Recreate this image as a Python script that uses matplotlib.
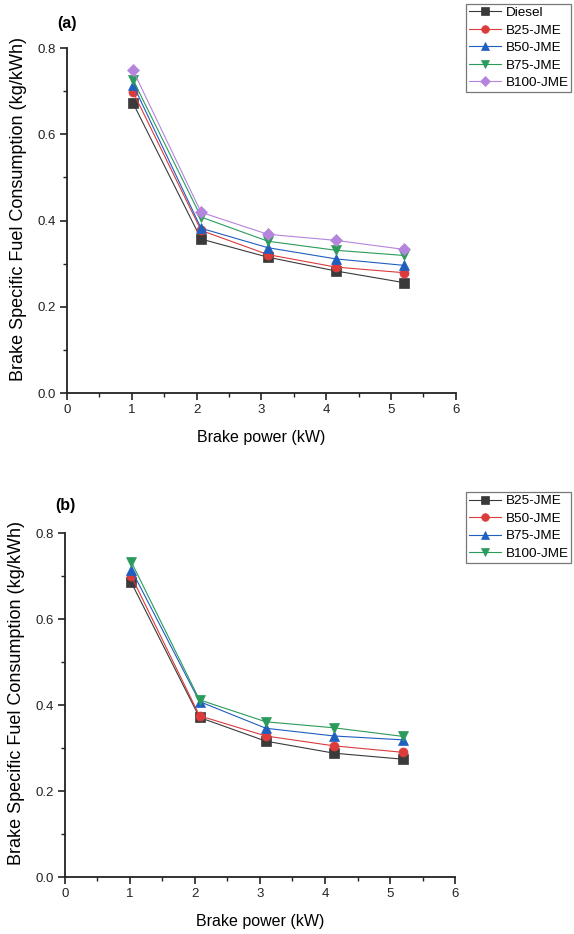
import matplotlib
matplotlib.use("Agg")
import matplotlib.pyplot as plt
from matplotlib.ticker import MultipleLocator

plt.rcParams['font.family'] = ['Liberation Sans', 'DejaVu Sans']

# Panel (a)
power_a = [1.02, 2.07, 3.10, 4.15, 5.20]
diesel_a = [0.672, 0.357, 0.315, 0.283, 0.256]
b25_a = [0.698, 0.377, 0.321, 0.292, 0.279]
b50_a = [0.715, 0.382, 0.337, 0.311, 0.296]
b75_a = [0.726, 0.408, 0.352, 0.331, 0.319]
b100_a = [0.748, 0.419, 0.368, 0.354, 0.333]
labels_a = ["Diesel", "B25-JME", "B50-JME", "B75-JME", "B100-JME"]

# Panel (b)
power_b = [1.02, 2.07, 3.09, 4.14, 5.20]
b25_b = [0.685, 0.371, 0.316, 0.288, 0.274]
b50_b = [0.700, 0.375, 0.328, 0.305, 0.290]
b75_b = [0.715, 0.408, 0.346, 0.328, 0.319]
b100_b = [0.733, 0.412, 0.361, 0.347, 0.327]
labels_b = ["B25-JME", "B50-JME", "B75-JME", "B100-JME"]

x_ticks = [0, 1, 2, 3, 4, 5, 6]
y_ticks = [0.0, 0.2, 0.4, 0.6, 0.8]

styles = [
    dict(color="#3a3a3a", marker="s"),
    dict(color="#dc3b3b", marker="o"),
    dict(color="#1f5fc0", marker="^"),
    dict(color="#2a9b5b", marker="v"),
    dict(color="#b584dc", marker="D"),
]

fig = plt.figure(figsize=(5.74, 9.34), dpi=100)
ax_a = fig.add_axes([0.1167, 0.5792, 0.794 - 0.1167, 0.9486 - 0.5792])
ax_b = fig.add_axes([0.1132, 0.0610, 0.7927 - 0.1132, 0.4293 - 0.0610])


def draw(ax, xs, series, labels, tag, tag_y, leg_anchor, ylab_y):
    for ys, lab, st in zip(series, labels, styles):
        ms = 6.5 if st["marker"] != "D" else 6
        ax.plot(xs, ys, color=st["color"], marker=st["marker"], markersize=ms,
                linewidth=0.8, markeredgewidth=0.5, markeredgecolor=st["color"],
                label=lab)
    ax.set_xlim(0, 6)
    ax.set_ylim(0, 0.8)
    ax.set_xticks(x_ticks)
    ax.set_yticks(y_ticks)
    ax.set_yticklabels([f"{v:.1f}" for v in y_ticks])
    ax.xaxis.set_minor_locator(MultipleLocator(0.5))
    ax.yaxis.set_minor_locator(MultipleLocator(0.1))
    for s in ("top", "right"):
        ax.spines[s].set_visible(False)
    for s in ("left", "bottom"):
        ax.spines[s].set_linewidth(1.3)
        ax.spines[s].set_color("#222222")
    ax.tick_params(which="major", direction="out", length=5, width=1.2,
                   labelsize=9.5, colors="#222222", pad=3)
    ax.tick_params(which="minor", direction="out", length=3, width=1.0,
                   colors="#222222")
    ax.set_xlabel("Brake power (kW)", fontsize=11.5, labelpad=10)
    ax.set_ylabel("Brake Specific Fuel Consumption (kg/kWh)", fontsize=13)
    ax.yaxis.set_label_coords(-0.102, ylab_y)
    ax.text(0.0, tag_y, tag, transform=ax.transAxes, fontsize=11.5,
            fontweight="bold", ha="center", va="center")
    leg = ax.legend(loc="upper left", bbox_to_anchor=leg_anchor, fontsize=9.7,
                    frameon=True, fancybox=False, handlelength=2.4,
                    handletextpad=0.35, borderpad=0.2, labelspacing=0.38,
                    borderaxespad=0, markerscale=0.85)
    leg.get_frame().set_edgecolor("#555555")
    leg.get_frame().set_linewidth(0.9)


draw(ax_a, power_a, [diesel_a, b25_a, b50_a, b75_a, b100_a], labels_a, "(a)",
     1.07, (1.026, 1.128), 0.533)
draw(ax_b, power_b, [b25_b, b50_b, b75_b, b100_b], labels_b, "(b)",
     1.08, (1.028, 1.119), 0.535)

fig.savefig("out.png", dpi=100)
